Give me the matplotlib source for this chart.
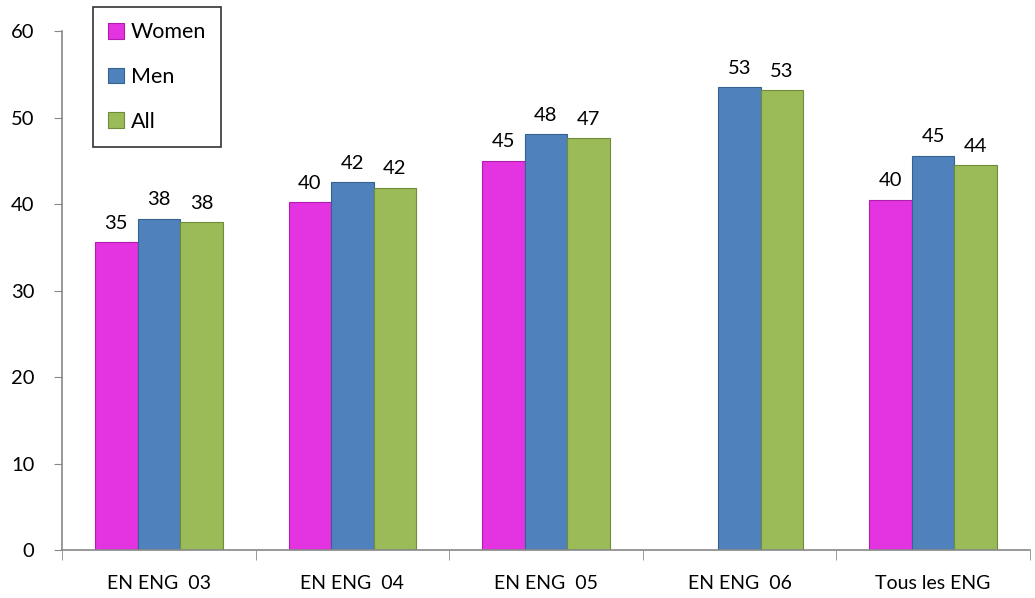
import matplotlib.pyplot as plt
import numpy as np

categories = ["EN ENG  03", "EN ENG  04", "EN ENG  05", "EN ENG  06", "Tous les ENG"]
women = [35.6, 40.2, 45.0, np.nan, 40.5]
men = [38.3, 42.5, 48.1, 53.5, 45.6]
all_ = [37.9, 41.9, 47.6, 53.2, 44.5]
women_labels = ["35", "40", "45", "", "40"]
men_labels = ["38", "42", "48", "53", "45"]
all_labels = ["38", "42", "47", "53", "44"]

plt.rcParams['font.family'] = ['Lato', 'DejaVu Sans']

fig = plt.figure(figsize=(10.35, 5.98), dpi=100)
ax = fig.add_axes([0.06, 0.08, 0.935, 0.868])

x = np.arange(len(categories))
w = 0.22
series = [
    (women, women_labels, "Women", "#E433E0", "#B01EAE"),
    (men, men_labels, "Men", "#4F81BD", "#35628F"),
    (all_, all_labels, "All", "#9BBB59", "#6F8C38"),
]
for i, (vals, labs, name, col, edge) in enumerate(series):
    pos = x + (i - 1) * w
    ax.bar(pos, vals, width=w, color=col, edgecolor=edge, linewidth=0.8, label=name)
    for p, v, l in zip(pos, vals, labs):
        if l:
            ax.text(p, v + 1.2, l, ha="center", va="bottom", fontsize=14.5)

ax.set_ylim(0, 60)
ax.set_xlim(-0.5, len(categories) - 0.5)
ax.set_yticks(range(0, 61, 10))
ax.tick_params(axis="y", labelsize=14.5, length=6, color="#888888", pad=14)
ax.set_xticks(x)
ax.set_xticklabels(categories, fontsize=14)
ax.tick_params(axis="x", length=0, pad=18)
ax.set_xticks(np.arange(-0.5, len(categories) + 0.5, 1), minor=True)
ax.tick_params(axis="x", which="minor", length=7, color="#888888")

for s in ["top", "right"]:
    ax.spines[s].set_visible(False)
for s in ["left", "bottom"]:
    ax.spines[s].set_color("#888888")
    ax.spines[s].set_linewidth(1.2)

leg = ax.legend(loc="upper left", bbox_to_anchor=(0.032, 1.046), fontsize=15.5,
                frameon=True, fancybox=False, edgecolor="black", labelspacing=1.15,
                handlelength=0.75, handleheight=0.75, handletextpad=0.3, borderpad=0.7,
                borderaxespad=0)
leg.get_frame().set_linewidth(1.2)

fig.savefig("out.png", dpi=100)
